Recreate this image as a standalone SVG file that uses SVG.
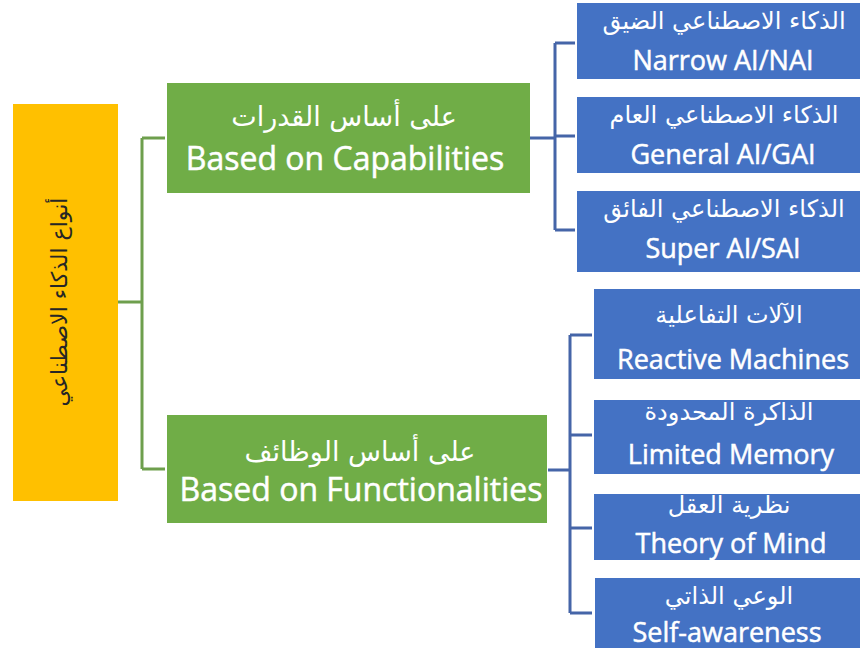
<svg xmlns="http://www.w3.org/2000/svg" width="860" height="653" viewBox="0 0 860 653">
<style>
.yel{fill:#FFC000}
.grn{fill:#70AD47}
.blu{fill:#4472C4}
.t{font-family:"Open Sans","DejaVu Sans",sans-serif;fill:#FFFFFF;stroke:#FFFFFF;stroke-width:0.5;text-anchor:middle}
.ar{font-family:"DejaVu Sans","Noto Sans",sans-serif;fill:#FFFFFF;text-anchor:middle}
.gt{font-size:32px}
.ga{font-size:27px}
.bt{font-size:27px}
.ba{font-size:24px}
.gl{stroke:#6E9F4D;stroke-width:3;fill:none}
.bl{stroke:#4565A8;stroke-width:3;fill:none}
</style>
<rect width="860" height="653" fill="#FFFFFF"/>
<g id="connectors">
<path class="gl" d="M118,302 H142 M142,138 V469 M142,138 H165 M142,469 H165"/>
<path class="bl" d="M530,138 H555 M555,43 V230 M555,43 H575 M555,136 H575 M555,230 H575"/>
<path class="bl" d="M548,470 H570 M570,335 V613 M570,335 H592 M570,435 H592 M570,528 H592 M570,613 H592"/>
</g>
<g id="root">
<rect class="yel" x="13" y="104" width="105" height="397"/>
<text class="ar" transform="translate(59,302) rotate(-90)" style="font-size:22px;fill:#262626" dominant-baseline="central">أنواع الذكاء الاصطناعي</text>
</g>
<g id="capabilities">
<rect class="grn" x="167" y="83" width="363" height="110"/>
<text class="ar ga" x="344" y="126">على أساس القدرات</text>
<text class="t gt" x="345" y="170">Based on Capabilities</text>
</g>
<g id="functionalities">
<rect class="grn" x="167" y="415" width="380" height="108"/>
<text class="ar ga" x="360" y="461">على أساس الوظائف</text>
<text class="t gt" x="361" y="501">Based on Functionalities</text>
</g>
<g id="narrow">
<rect class="blu" x="577" y="3" width="283" height="76"/>
<text class="ar ba" x="724" y="29">الذكاء الاصطناعي الضيق</text>
<text class="t bt" x="723" y="70">Narrow AI/NAI</text>
</g>
<g id="general">
<rect class="blu" x="577" y="97" width="283" height="76"/>
<text class="ar ba" x="724" y="123">الذكاء الاصطناعي العام</text>
<text class="t bt" x="723" y="164">General AI/GAI</text>
</g>
<g id="super">
<rect class="blu" x="577" y="191" width="283" height="81"/>
<text class="ar ba" x="724" y="217">الذكاء الاصطناعي الفائق</text>
<text class="t bt" x="723" y="258">Super AI/SAI</text>
</g>
<g id="reactive">
<rect class="blu" x="594" y="289" width="266" height="90"/>
<text class="ar ba" x="729" y="323">الآلات التفاعلية</text>
<text class="t bt" x="733" y="369">Reactive Machines</text>
</g>
<g id="limited">
<rect class="blu" x="594" y="400" width="266" height="74"/>
<text class="ar ba" x="729" y="420">الذاكرة المحدودة</text>
<text class="t bt" x="731" y="464">Limited Memory</text>
</g>
<g id="theory">
<rect class="blu" x="594" y="494" width="266" height="66"/>
<text class="ar ba" x="729" y="513">نظرية العقل</text>
<text class="t bt" x="731" y="553">Theory of Mind</text>
</g>
<g id="self">
<rect class="blu" x="595" y="578" width="265" height="70"/>
<text class="ar ba" x="729" y="604">الوعي الذاتي</text>
<text class="t bt" x="727" y="642">Self-awareness</text>
</g>
</svg>
